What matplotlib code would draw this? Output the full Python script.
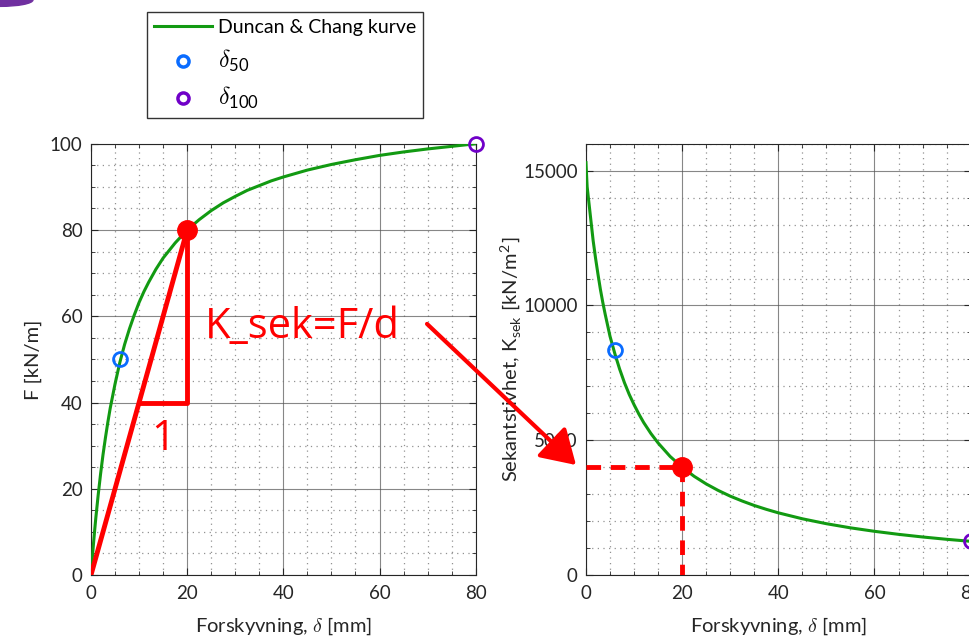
import numpy as np
import matplotlib.pyplot as plt
from matplotlib.patches import Ellipse, FancyArrowPatch
from matplotlib.lines import Line2D

# values
delta = [0, 0.25, 0.5, 0.75, 1, 1.5, 2, 2.5, 3, 3.5, 4, 5, 6, 7, 8, 9, 10, 11, 12, 13.5, 15,
         17.5, 20, 22.5, 25, 27.5, 30, 32.5, 35, 37.5, 40, 45, 50, 55, 60, 65, 70, 75, 80]
force = [0, 3.6, 7.0, 10.2, 13.2, 18.6, 23.5, 27.9, 31.8, 35.4, 38.7, 44.3, 49.3, 53.5,
         57.1, 60.3, 63.2, 65.7, 67.9, 70.9, 73.5, 77.0, 80.0, 82.4, 84.5, 86.3, 87.8,
         89.2, 90.3, 91.4, 92.3, 93.9, 95.2, 96.3, 97.3, 98.1, 98.8, 99.4, 100.0]
k_initial = 15300
d50, f50 = 6, 50
d100, f100 = 80, 100
d_sek, f_sek = 20, 80

# secant stiffness K = F/d  [kN/m2]
k_sek = [k_initial] + [f / d * 1000 for d, f in zip(delta[1:], force[1:])]
k50 = f50 / d50 * 1000
k100 = f100 / d100 * 1000
k_pt = f_sek / d_sek * 1000

plt.rcParams['font.family'] = ['Lato', 'DejaVu Sans']
plt.rcParams['font.size'] = 13
plt.rcParams['mathtext.fontset'] = 'cm'

green = '#129a12'
blue = '#0a6cff'
purple = '#7000c8'
red = '#ff0000'
txt = '#262626'

fig = plt.figure(figsize=(9.69, 6.37), dpi=100)
ax1 = fig.add_axes([0.0939, 0.0973, 0.397, 0.677])
ax2 = fig.add_axes([0.6047, 0.0973, 0.397, 0.677])


def style(ax, xmax, ymax, ymaj, ymin):
    ax.set_xlim(0, xmax)
    ax.set_ylim(0, ymax)
    ax.set_xticks(np.arange(0, xmax + 1, 20))
    ax.set_xticks(np.arange(0, xmax + 1, 5), minor=True)
    ax.set_yticks(np.arange(0, ymax + 1, ymaj))
    ax.set_yticks(np.arange(0, ymax + 1, ymin), minor=True)
    ax.grid(which='major', color='#555555', lw=0.8, alpha=0.7)
    ax.grid(which='minor', color='#777777', lw=0.9, ls=(0, (1, 3.5)), alpha=0.8)
    ax.tick_params(which='both', direction='in', top=True, right=True,
                   colors=txt, labelcolor=txt, labelsize=13.5)
    ax.tick_params(which='major', length=5)
    ax.tick_params(which='minor', length=3)
    ax.tick_params(axis='x', pad=7)
    ax.tick_params(axis='y', pad=6)
    for s in ax.spines.values():
        s.set_color(txt)
        s.set_linewidth(0.8)
    ax.set_axisbelow(True)
    ax.set_xlabel(r'Forskyvning, $\delta$ [mm]', color=txt, fontsize=14.5, labelpad=10)


style(ax1, 80, 100, 20, 5)
style(ax2, 80, 16000, 5000, 1000)
ax2.set_yticks(np.arange(0, 16000, 5000))

# left plot
ax1.plot(delta, force, color=green, lw=2.2, zorder=3)
ax1.plot([0, d_sek], [0, f_sek], color=red, lw=3.5, zorder=4, solid_capstyle='round')
ax1.plot([d_sek / 2, d_sek, d_sek], [f_sek / 2, f_sek / 2, f_sek], color=red, lw=3.5, zorder=4)
ax1.plot(d_sek, f_sek, 'o', color=red, ms=14, zorder=5)
ax1.plot(d50, f50, 'o', mfc='none', mec=blue, mew=2, ms=10, zorder=5, clip_on=False)
ax1.plot(d100, f100, 'o', mfc='none', mec=purple, mew=2, ms=10, zorder=5, clip_on=False)
ax1.text(15, 31.5, '1', color=red, fontsize=30, ha='center', va='center',
         family='Open Sans')
ax1.text(23.7, 57.5, 'K_sek=F/d', color=red, fontsize=30, ha='left', va='center',
         family='Open Sans')
ax1.set_ylabel('F [kN/m]', color=txt, fontsize=14.5, labelpad=6)

# right plot
ax2.plot(delta, k_sek, color=green, lw=2.2, zorder=3)
ax2.plot([0, d_sek], [k_pt, k_pt], color=red, lw=3.5, ls=(0, (3, 2)), zorder=4)
ax2.plot([d_sek, d_sek], [k_pt, 0], color=red, lw=3.5, ls=(0, (3, 2)), zorder=4)
ax2.plot(d_sek, k_pt, 'o', color=red, ms=14, zorder=5)
ax2.plot(d50, k50, 'o', mfc='none', mec=blue, mew=2, ms=10, zorder=5, clip_on=False)
ax2.plot(d100, k100, 'o', mfc='none', mec=purple, mew=2, ms=10, zorder=5, clip_on=False)
ax2.set_ylabel(r'Sekantstivhet, K$_{\mathregular{sek}}$ [kN/m$^{\mathregular{2}}$]',
               color=txt, fontsize=14.5, labelpad=0)

# arrow between the two plots
arrow = FancyArrowPatch((0.4386, 0.4945), (0.5965, 0.267), transform=fig.transFigure,
                        arrowstyle='-|>,head_length=13,head_width=8', color=red,
                        lw=3, mutation_scale=1.6)
fig.add_artist(arrow)

# legend
handles = [Line2D([], [], color=green, lw=2.2),
           Line2D([], [], ls='none', marker='o', mfc='none', mec=blue, mew=2.5, ms=8),
           Line2D([], [], ls='none', marker='o', mfc='none', mec=purple, mew=2.5, ms=8)]
labels = ['Duncan & Chang kurve', r'$\delta_{\mathregular{50}}$', r'$\delta_{\mathregular{100}}$']
leg = fig.legend(handles, labels, loc='upper left', bbox_to_anchor=(0.1517, 0.981),
                 borderaxespad=0, fancybox=False, edgecolor='black', fontsize=14,
                 handlelength=3.0, labelspacing=0.6, borderpad=0.35, handletextpad=0.3)
leg.get_frame().set_linewidth(1.0)
for t in leg.get_texts():
    t.set_color('black')
leg.get_texts()[1].set_fontsize(17)
leg.get_texts()[2].set_fontsize(17)

# purple shape in the corner
fig.add_artist(Ellipse((0.0, 1.0), width=0.068, height=0.02, transform=fig.transFigure,
                       color='#7030a0'))

fig.savefig('out.png', dpi=100)
